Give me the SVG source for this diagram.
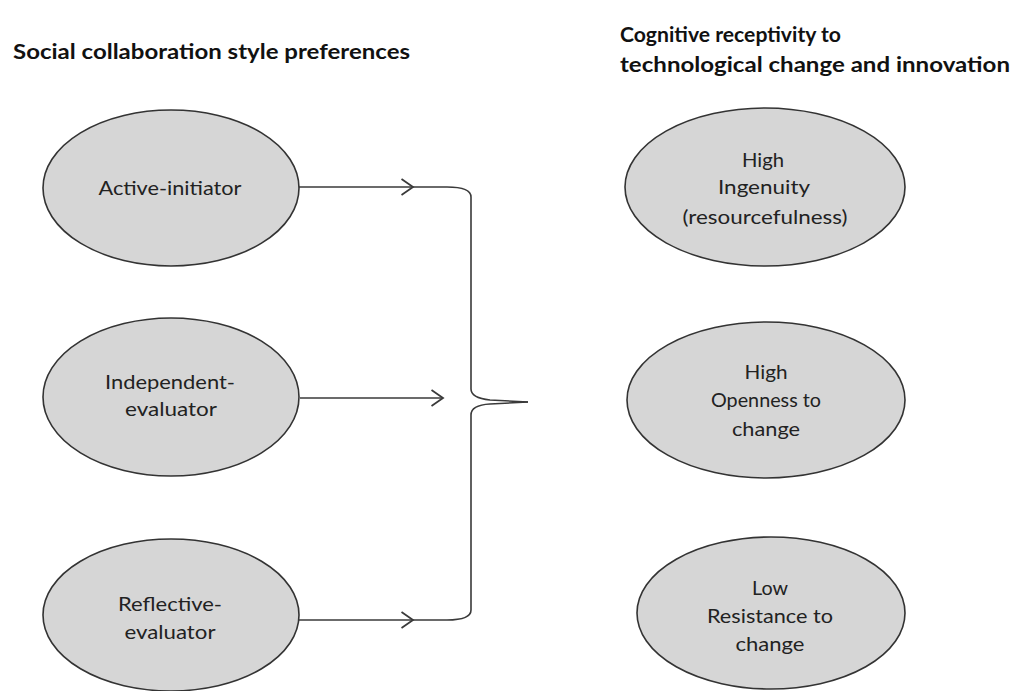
<svg xmlns="http://www.w3.org/2000/svg" width="1013" height="691" viewBox="0 0 1013 691">
<style>
.bg{fill:#ffffff}
.node ellipse{fill:#d6d6d6;stroke:#333333;stroke-width:1.6}
.node text{font-family:Lato,"Open Sans","Liberation Sans",sans-serif;font-size:20px;fill:#222222;text-anchor:middle}
.title{font-family:Lato,"Open Sans","Liberation Sans",sans-serif;font-size:20px;font-weight:bold;fill:#111111}
.conn{fill:none;stroke:#3a3a3a;stroke-width:1.6}
</style>
<defs>
<marker id="chev" markerUnits="userSpaceOnUse" viewBox="0 0 14 18" markerWidth="14" markerHeight="18" refX="12.5" refY="9" orient="auto">
<path d="M1,1 L12.5,9 L1,17" fill="none" stroke="#3a3a3a" stroke-width="1.8"/>
</marker>
</defs>
<rect class="bg" x="0" y="0" width="1013" height="691"/>
<g id="titles">
<text class="title" x="13" y="59" textLength="397" lengthAdjust="spacingAndGlyphs">Social collaboration style preferences</text>
<text class="title" x="620" y="42" textLength="221" lengthAdjust="spacingAndGlyphs">Cognitive receptivity to</text>
<text class="title" x="620" y="72" textLength="390" lengthAdjust="spacingAndGlyphs">technological change and innovation</text>
</g>
<g id="connectors">
<path class="conn" d="M299,187 H413" marker-end="url(#chev)"/>
<path class="conn" d="M300,398 H443" marker-end="url(#chev)"/>
<path class="conn" d="M299,620 H413" marker-end="url(#chev)"/>
<path class="conn" d="M413,187 H447 Q471,187 471,197 V389 Q471,398 490,400 L528,402"/>
<path class="conn" d="M413,620 H447 Q471,620 471,610 V415 Q471,405 490,404 L528,402"/>
</g>
<g id="node-active-initiator" class="node">
<ellipse cx="171" cy="188" rx="128" ry="78"/>
<text x="170" y="195" textLength="143" lengthAdjust="spacingAndGlyphs">Active-initiator</text>
</g>
<g id="node-independent-evaluator" class="node">
<ellipse cx="171" cy="397" rx="128" ry="79"/>
<text x="170" y="389" textLength="130" lengthAdjust="spacingAndGlyphs">Independent-</text>
<text x="171" y="416" textLength="92" lengthAdjust="spacingAndGlyphs">evaluator</text>
</g>
<g id="node-reflective-evaluator" class="node">
<ellipse cx="171" cy="615" rx="128" ry="76"/>
<text x="170" y="611" textLength="104" lengthAdjust="spacingAndGlyphs">Reflective-</text>
<text x="170" y="639" textLength="91" lengthAdjust="spacingAndGlyphs">evaluator</text>
</g>
<g id="node-high-ingenuity" class="node">
<ellipse cx="765" cy="187" rx="140" ry="79"/>
<text x="763" y="167" textLength="42" lengthAdjust="spacingAndGlyphs">High</text>
<text x="764" y="194" textLength="92" lengthAdjust="spacingAndGlyphs">Ingenuity</text>
<text x="765" y="224" textLength="165" lengthAdjust="spacingAndGlyphs">(resourcefulness)</text>
</g>
<g id="node-high-openness" class="node">
<ellipse cx="766" cy="400" rx="139" ry="78"/>
<text x="766" y="379" textLength="43" lengthAdjust="spacingAndGlyphs">High</text>
<text x="766" y="407" textLength="110" lengthAdjust="spacingAndGlyphs">Openness to</text>
<text x="766" y="436" textLength="68" lengthAdjust="spacingAndGlyphs">change</text>
</g>
<g id="node-low-resistance" class="node">
<ellipse cx="771" cy="613" rx="134" ry="76"/>
<text x="770" y="595" textLength="36" lengthAdjust="spacingAndGlyphs">Low</text>
<text x="770" y="623" textLength="126" lengthAdjust="spacingAndGlyphs">Resistance to</text>
<text x="770" y="651" textLength="69" lengthAdjust="spacingAndGlyphs">change</text>
</g>
</svg>
